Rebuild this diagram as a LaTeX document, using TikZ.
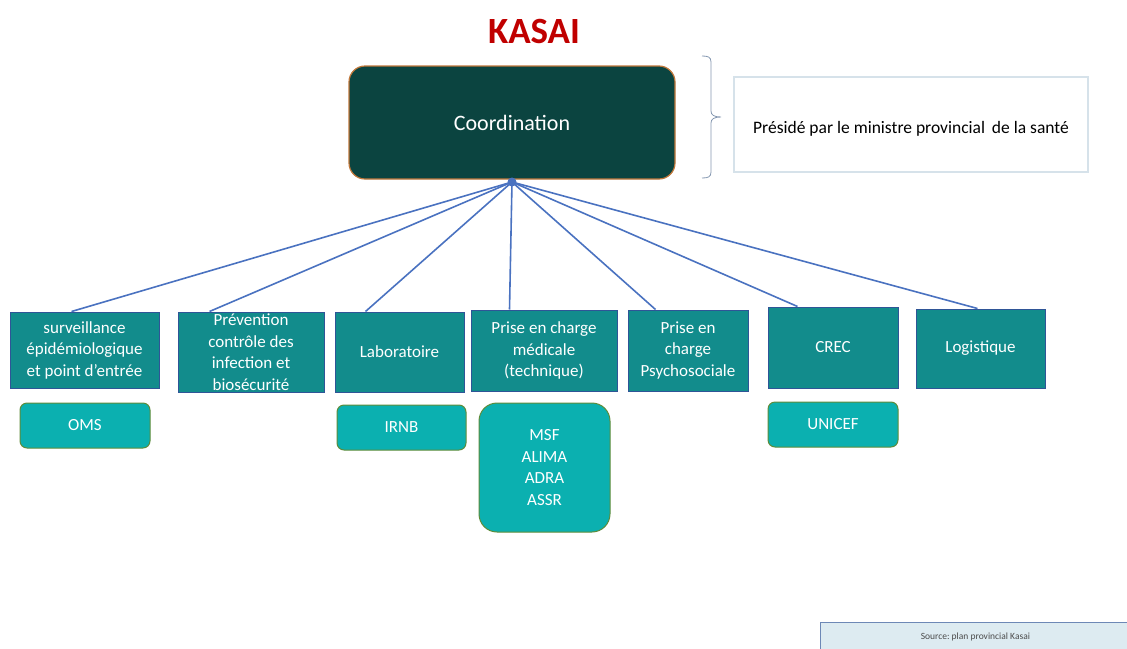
\documentclass[tikz,border=0pt]{standalone}
\usepackage{fontspec}
\setmainfont{Carlito}
\usetikzlibrary{calc}
\frenchspacing
\definecolor{titlered}{HTML}{C00000}
\definecolor{coordfill}{HTML}{0B4440}
\definecolor{coordline}{HTML}{C0773A}
\definecolor{tealfill}{HTML}{128C8C}
\definecolor{tealline}{HTML}{2F5597}
\definecolor{lightteal}{HTML}{0BB0B0}
\definecolor{greenline}{HTML}{5E8C3A}
\definecolor{conn}{HTML}{4A72C0}
\definecolor{bracecol}{HTML}{8497B0}
\definecolor{presline}{HTML}{D6E2EA}
\definecolor{srcfill}{HTML}{DDEBF1}
\tikzset{
  x=1pt, y=-1pt,
  unitbox/.style={draw=tealline, line width=1pt, fill=tealfill, text=white, align=center,
     font=\fontsize{17}{21.5}\selectfont, inner sep=0pt},
  partbox/.style={draw=greenline, line width=1pt, fill=lightteal, text=white, align=center,
     rounded corners=7pt, font=\fontsize{17}{21.5}\selectfont, inner sep=0pt},
  connector/.style={draw=conn, line width=1.6pt},
}
\newcommand{\ubox}[6]{%
  \node[unitbox, minimum width=#4-#2, minimum height=#5-#3] (#1) at ({(#2+#4)/2},{(#3+#5)/2}) {#6};}
\begin{document}
\begin{tikzpicture}
\useasboundingbox (0,0) rectangle (1127,648);
% title
\node[text=titlered, font=\fontsize{37}{40}\bfseries\selectfont] (title) at (534,31) {KASAI};
% coordination
\node[draw=coordline, line width=1.2pt, fill=coordfill, rounded corners=16pt,
  minimum width=326, minimum height=113, text=white,
  font=\fontsize{22}{26}\selectfont] (coord) at (512,122.5) {Coordination};
% brace
\draw[bracecol, line width=0.8pt] (702,56) .. controls (708,56) and (711,57) .. (711,62)
   -- (711,111) .. controls (711,115) and (714,117) .. (721,117)
   .. controls (714,117) and (711,119) .. (711,123) -- (711,172)
   .. controls (711,177) and (708,178) .. (702,178);
% presided box
\node[draw=presline, line width=1.2pt, fill=white, minimum width=354, minimum height=95,
  text height=18pt, text depth=0pt,
  font=\fontsize{17.5}{21}\selectfont] (pres) at (911,124.5) {Présidé par le ministre provincial\, de la santé};
% hub
\coordinate (hub) at (512,182);
\fill[conn] (hub) circle (4.5);
% unit boxes
\ubox{b1}{10}{312}{159}{388}{surveillance\\épidémiologique\\et point d’entrée}
\ubox{b2}{178}{312}{324}{392}{Prévention\\contrôle des\\infection et\\biosécurité}
\ubox{b3}{335}{312}{464}{392}{Laboratoire}
\ubox{b4}{471}{310}{617}{391}{Prise en charge\\médicale\\(technique)}
\ubox{b5}{628}{310}{748}{391}{Prise en\\charge\\Psychosociale}
\ubox{b6}{768}{307}{898}{388}{CREC}
\ubox{b7}{916}{309}{1045}{388}{Logistique}
% connectors
\draw[connector] (hub) -- ([xshift=62pt]b1.north west);
\draw[connector] (hub) -- ([xshift=32pt]b2.north west);
\draw[connector] (hub) -- ([xshift=31pt]b3.north west);
\draw[connector] (hub) -- ([xshift=39pt]b4.north west);
\draw[connector] (hub) -- ([xshift=28pt]b5.north west);
\draw[connector] (hub) -- ([xshift=30pt]b6.north west);
\draw[connector] (hub) -- ([xshift=62pt]b7.north west);
% partner boxes
\node[partbox, minimum width=130, minimum height=45] (oms) at (85,425.5) {OMS};
\node[partbox, minimum width=129, minimum height=45] (irnb) at (401.5,427.5) {IRNB};
\node[partbox, rounded corners=18pt, minimum width=131, minimum height=129] (msf) at (544.5,467.5) {MSF\\ALIMA\\ADRA\\ASSR};
\node[partbox, minimum width=130, minimum height=45] (unicef) at (833,424.5) {UNICEF};
% source
\node[draw=tealline!70, line width=0.8pt, fill=srcfill, minimum width=310, minimum height=30,
  anchor=north west, font=\fontsize{9.5}{10}\selectfont, text=black!70] (src) at (820,622) {Source: plan provincial Kasai};
\end{tikzpicture}
\end{document}
